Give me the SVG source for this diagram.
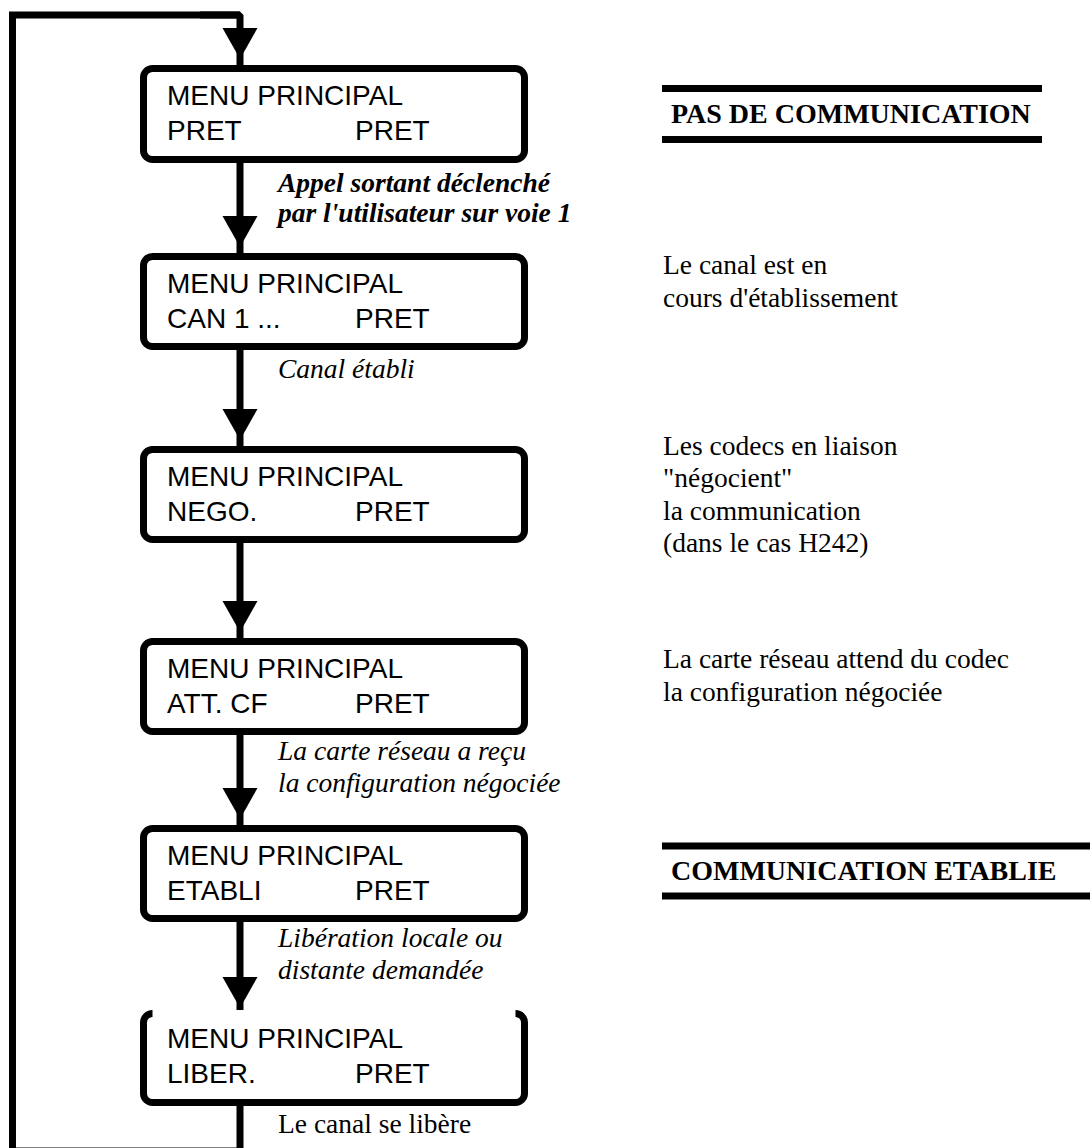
<svg xmlns="http://www.w3.org/2000/svg" width="1090" height="1148" viewBox="0 0 1090 1148">
  <style>
    .box { fill: #fff; stroke: #000; stroke-width: 7; }
    .wire { fill: none; stroke: #000; stroke-width: 7; stroke-linejoin: miter; }
    .bend { fill: none; stroke: #000; stroke-width: 7; stroke-linejoin: bevel; }
    .head { fill: #000; stroke: none; }
    .lcd { font-family: "Liberation Sans", Arial, sans-serif; font-size: 28px; fill: #000; }
    .evt { font-family: "Liberation Serif", "Times New Roman", serif; font-size: 27.5px; font-style: italic; fill: #000; }
    .evtb { font-family: "Liberation Serif", "Times New Roman", serif; font-size: 27.5px; font-style: italic; font-weight: bold; fill: #000; }
    .note { font-family: "Liberation Serif", "Times New Roman", serif; font-size: 27.5px; fill: #000; }
    .title { font-family: "Liberation Serif", "Times New Roman", serif; font-size: 28px; font-weight: bold; fill: #000; }
    .rule { stroke: #000; stroke-width: 7; }
  </style>
  <defs>
    <polygon id="tip" points="-17.5,0 17.5,0 0,31"/>
  </defs>

  <!-- connectors -->
  <g id="connectors">
    <!-- return loop from the last state back to the first -->
    <path class="wire" d="M240,15 H12.5 V1151 H240 V1106"/>
    <path class="bend" d="M200,15 H240 V65"/>
    <use href="#tip" class="head" x="240" y="28"/>
    <line class="wire" x1="240" y1="163" x2="240" y2="253"/>
    <use href="#tip" class="head" x="240" y="216"/>
    <line class="wire" x1="240" y1="350" x2="240" y2="446"/>
    <use href="#tip" class="head" x="240" y="409"/>
    <line class="wire" x1="240" y1="543" x2="240" y2="638"/>
    <use href="#tip" class="head" x="240" y="601"/>
    <line class="wire" x1="240" y1="735" x2="240" y2="825"/>
    <use href="#tip" class="head" x="240" y="788"/>
    <line class="wire" x1="240" y1="922" x2="240" y2="1010"/>
    <use href="#tip" class="head" x="240" y="977"/>
  </g>

  <!-- states -->
  <g id="state-pret">
    <rect class="box" x="143.5" y="68.5" width="381" height="91" rx="9"/>
    <text class="lcd" x="167" y="105">MENU PRINCIPAL</text>
    <text class="lcd" x="167" y="140">PRET</text>
    <text class="lcd" x="355" y="140">PRET</text>
  </g>
  <g id="state-can">
    <rect class="box" x="143.5" y="256.5" width="381" height="90" rx="9"/>
    <text class="lcd" x="167" y="293">MENU PRINCIPAL</text>
    <text class="lcd" x="167" y="328">CAN 1 ...</text>
    <text class="lcd" x="355" y="328">PRET</text>
  </g>
  <g id="state-nego">
    <rect class="box" x="143.5" y="449.5" width="381" height="90" rx="9"/>
    <text class="lcd" x="167" y="486">MENU PRINCIPAL</text>
    <text class="lcd" x="167" y="521">NEGO.</text>
    <text class="lcd" x="355" y="521">PRET</text>
  </g>
  <g id="state-att">
    <rect class="box" x="143.5" y="641.5" width="381" height="90" rx="9"/>
    <text class="lcd" x="167" y="678">MENU PRINCIPAL</text>
    <text class="lcd" x="167" y="713">ATT. CF</text>
    <text class="lcd" x="355" y="713">PRET</text>
  </g>
  <g id="state-etabli">
    <rect class="box" x="143.5" y="828.5" width="381" height="90" rx="9"/>
    <text class="lcd" x="167" y="865">MENU PRINCIPAL</text>
    <text class="lcd" x="167" y="900">ETABLI</text>
    <text class="lcd" x="355" y="900">PRET</text>
  </g>
  <g id="state-liber">
    <!-- open top edge: only the two upper corners are drawn -->
    <path class="box" d="M152.5,1013.5 A9,9 0 0 0 143.5,1022.5 V1093.5 A9,9 0 0 0 152.5,1102.5 H515.5 A9,9 0 0 0 524.5,1093.5 V1022.5 A9,9 0 0 0 515.5,1013.5"/>
    <text class="lcd" x="167" y="1048">MENU PRINCIPAL</text>
    <text class="lcd" x="167" y="1083">LIBER.</text>
    <text class="lcd" x="355" y="1083">PRET</text>
  </g>

  <!-- transition labels -->
  <g id="labels">
    <text class="evtb" x="278" y="192">Appel sortant déclenché</text>
    <text class="evtb" x="278" y="222">par l'utilisateur sur voie 1</text>
    <text class="evt" x="278" y="378">Canal établi</text>
    <text class="evt" x="278" y="760">La carte réseau a reçu</text>
    <text class="evt" x="278" y="792">la configuration négociée</text>
    <text class="evt" x="278" y="947">Libération locale ou</text>
    <text class="evt" x="278" y="979">distante demandée</text>
    <text class="note" x="278" y="1133">Le canal se libère</text>
  </g>

  <!-- side notes -->
  <g id="notes">
    <line class="rule" x1="662" y1="88.5" x2="1042" y2="88.5"/>
    <text class="title" x="671" y="123">PAS DE COMMUNICATION</text>
    <line class="rule" x1="662" y1="139.5" x2="1042" y2="139.5"/>

    <text class="note" x="663" y="274">Le canal est en</text>
    <text class="note" x="663" y="307">cours d'établissement</text>

    <text class="note" x="663" y="455">Les codecs en liaison</text>
    <text class="note" x="663" y="487">"négocient"</text>
    <text class="note" x="663" y="520">la communication</text>
    <text class="note" x="663" y="552">(dans le cas H242)</text>

    <text class="note" x="663" y="668">La carte réseau attend du codec</text>
    <text class="note" x="663" y="701">la configuration négociée</text>

    <line class="rule" x1="662" y1="846" x2="1090" y2="846"/>
    <text class="title" x="671" y="880">COMMUNICATION ETABLIE</text>
    <line class="rule" x1="662" y1="896" x2="1090" y2="896"/>
  </g>
</svg>
